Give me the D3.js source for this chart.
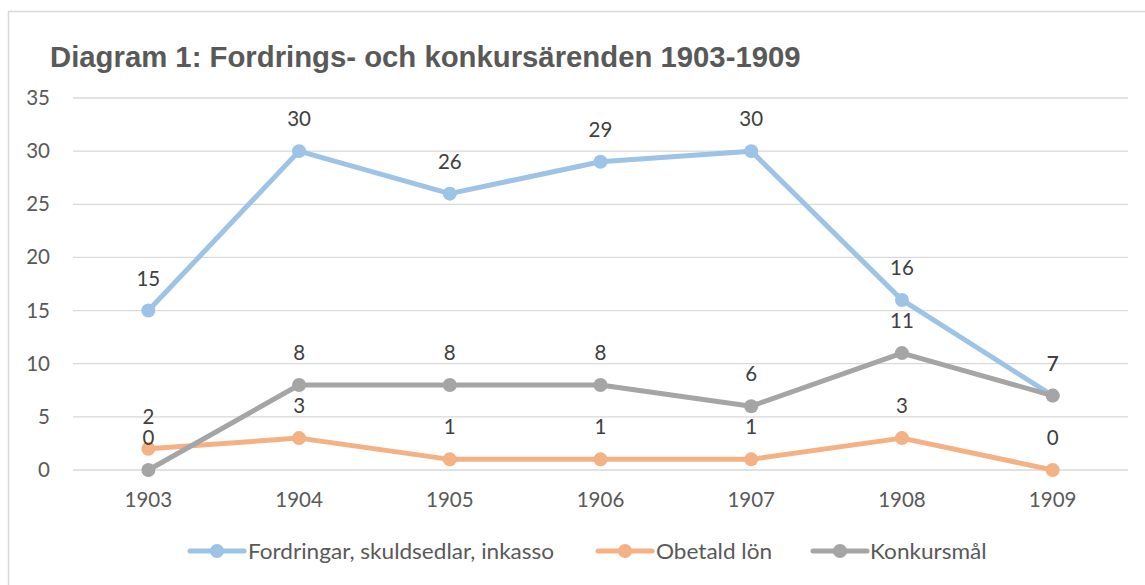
<!DOCTYPE html>
<html>
<head>
<meta charset="utf-8">
<script src="https://cdn.jsdelivr.net/npm/d3@7"></script>
<style>
  body { margin: 0; background: #fff; }
  svg { display: block; }
</style>
</head>
<body>
<div id="chart"></div>
<script>
const years = ["1903", "1904", "1905", "1906", "1907", "1908", "1909"];
const fordringar = [15, 30, 26, 29, 30, 16, 7];
const obetaldLon = [2, 3, 1, 1, 1, 3, 0];
const konkursmal = [0, 8, 8, 8, 6, 11, 7];
const yTicks = [0, 5, 10, 15, 20, 25, 30, 35];

const series = [
  {label: "Fordringar, skuldsedlar, inkasso", color: "#9dc3e6", values: fordringar},
  {label: "Obetald lön", color: "#f4b183", values: obetaldLon},
  {label: "Konkursmål", color: "#a5a5a5", values: konkursmal}
];

const width = 1145, height = 585;
const margin = {top: 98, right: 17, bottom: 115, left: 73};
const font = "Lato, 'Noto Sans', sans-serif";

const svg = d3.select("#chart")
  .append("svg")
    .attr("width", width)
    .attr("height", height);

// outer frame
svg.append("rect")
  .attr("x", 8.5).attr("y", 11.5)
  .attr("width", width + 10).attr("height", height + 10)
  .attr("fill", "white")
  .attr("stroke", "#d9d9d9")
  .attr("stroke-width", 1.5);

const x = d3.scaleBand()
  .domain(years)
  .range([margin.left, width - margin.right]);

const y = d3.scaleLinear()
  .domain([0, 35])
  .range([height - margin.bottom, margin.top]);

const cx = d => x(d) + x.bandwidth() / 2;

// gridlines
svg.append("g")
  .selectAll("line")
  .data(yTicks)
  .join("line")
    .attr("x1", margin.left)
    .attr("x2", width - margin.right)
    .attr("y1", d => y(d))
    .attr("y2", d => y(d))
    .attr("stroke", "#d9d9d9")
    .attr("stroke-width", 1.3);

// y axis labels
const yAxis = d3.axisLeft(y).tickValues(yTicks).tickSize(0).tickPadding(0);
svg.append("g")
  .attr("transform", `translate(50, 0)`)
  .call(yAxis)
  .call(g => g.select(".domain").remove())
  .call(g => g.selectAll("text")
    .attr("fill", "#595959")
    .style("font-family", font)
    .style("font-size", "20.5px"));

// x axis labels
const xAxis = d3.axisBottom(x).tickSize(0).tickPadding(0);
svg.append("g")
  .attr("transform", `translate(0, ${height - margin.bottom + 22})`)
  .call(xAxis)
  .call(g => g.select(".domain").remove())
  .call(g => g.selectAll("text")
    .attr("fill", "#595959")
    .style("font-family", font)
    .style("font-size", "20.5px"));

// title
svg.append("text")
  .text("Diagram 1: Fordrings- och konkursärenden 1903-1909")
  .attr("x", 50)
  .attr("y", 67)
  .attr("fill", "#595959")
  .style("font-family", "'Liberation Sans', Arial, sans-serif")
  .style("font-weight", "bold")
  .style("font-size", "29.3px");

const line = d3.line()
  .x((d, i) => cx(years[i]))
  .y(d => y(d));

const sg = svg.append("g")
  .selectAll("g")
  .data(series)
  .join("g");

sg.append("path")
  .attr("fill", "none")
  .attr("stroke", d => d.color)
  .attr("stroke-width", 5)
  .attr("stroke-linejoin", "round")
  .attr("d", d => line(d.values));

sg.selectAll("circle")
  .data(d => d.values.map((v, i) => ({v, i, color: d.color})))
  .join("circle")
    .attr("cx", d => cx(years[d.i]))
    .attr("cy", d => y(d.v))
    .attr("r", 7)
    .attr("fill", d => d.color);

// data labels
const lg = svg.append("g");
series.forEach(s => {
  lg.selectAll(null)
    .data(s.values.map((v, i) => ({v, i})))
    .join("text")
      .text(d => d.v)
      .attr("x", d => cx(years[d.i]))
      .attr("y", d => y(d.v) - 25)
      .attr("text-anchor", "middle")
      .attr("fill", "#404040")
      .style("font-family", font)
      .style("font-size", "20.5px");
});

// legend
const legendItems = [
  {x: 190, textX: 248},
  {x: 598, textX: 656},
  {x: 813, textX: 870}
];
const legend = svg.append("g")
  .selectAll("g")
  .data(series)
  .join("g")
    .attr("transform", (d, i) => `translate(${legendItems[i].x}, 551)`);

legend.append("line")
  .attr("x1", 0).attr("x2", 54)
  .attr("y1", 0).attr("y2", 0)
  .attr("stroke", d => d.color)
  .attr("stroke-width", 5)
  .attr("stroke-linecap", "round");

legend.append("circle")
  .attr("cx", 27).attr("cy", 0).attr("r", 7)
  .attr("fill", d => d.color);

legend.append("text")
  .text(d => d.label)
  .attr("transform", (d, i) => `translate(${legendItems[i].textX - legendItems[i].x}, 0) scale(1.05, 1)`)
  .attr("dy", "0.36em")
  .attr("fill", "#595959")
  .style("font-family", font)
  .style("font-size", "21.5px");
</script>
</body>
</html>
